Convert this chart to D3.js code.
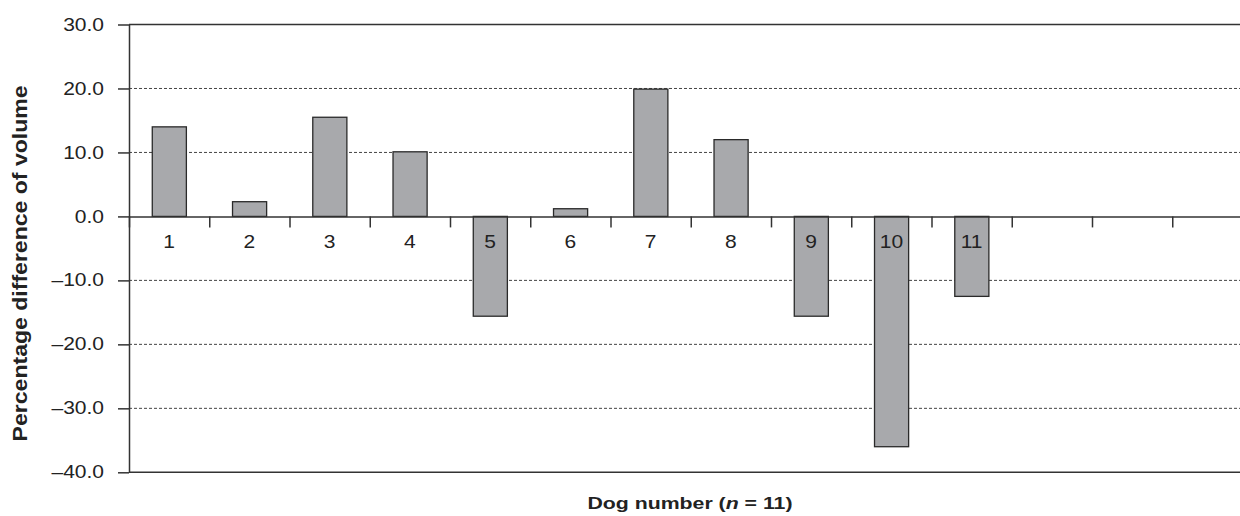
<!DOCTYPE html>
<html>
<head>
<meta charset="utf-8">
<script src="https://cdn.jsdelivr.net/npm/d3@7"></script>
<style>
  body { margin: 0; background: #fff; }
  svg { display: block; }
  text { font-family: "Liberation Sans", Arial, Helvetica, sans-serif; fill: #222; }
</style>
</head>
<body>
<div id="chart-area"></div>
<script>
// DATA
const slots = ["1", "2", "3", "4", "5", "6", "7", "8", "9", "10", "11", "12", "13", "14"]
const dogs = ["1", "2", "3", "4", "5", "6", "7", "8", "9", "10", "11"]
const diffs = [14.0, 2.3, 15.5, 10.1, -15.6, 1.2, 19.9, 12.0, -15.6, -36.0, -12.5]
const yTicks = [30, 20, 10, 0, -10, -20, -30, -40]
const gridTicks = [20, 10, -10, -20, -30]

const W = 1240, H = 516
const STRETCH = 1.2 // text in the picture is wider than it is tall

const svg = d3.select("#chart-area").append("svg")
  .attr("width", W)
  .attr("height", H)

// scales
const x = d3.scaleBand()
  .domain(slots)
  .range([129, 1252.5])
  .padding(0)

const xEdge = d3.scaleLinear()
  .domain([0, slots.length])
  .range(x.range())

const y = d3.scaleLinear()
  .domain([-40, 30])
  .range([472.3, 24.5])

const fmt = d => (d < 0 ? "\u2013" : "") + Math.abs(d).toFixed(1)

// dashed gridlines
svg.append("g")
  .selectAll("line")
  .data(gridTicks)
  .join("line")
    .attr("x1", 129)
    .attr("x2", W)
    .attr("y1", d => y(d))
    .attr("y2", d => y(d))
    .attr("stroke", "#444")
    .attr("stroke-width", 1)
    .attr("stroke-dasharray", "3,2")

// top and bottom frame
svg.append("g")
  .selectAll("line")
  .data([30, -40])
  .join("line")
    .attr("x1", 129)
    .attr("x2", W)
    .attr("y1", d => y(d))
    .attr("y2", d => y(d))
    .attr("stroke", "#333")
    .attr("stroke-width", 1.6)

// bars
const data = dogs.map((d, i) => ({ dog: d, value: diffs[i] }))
svg.append("g")
  .selectAll("rect")
  .data(data)
  .join("rect")
    .attr("x", d => x(d.dog) + x.bandwidth() * 0.29)
    .attr("width", x.bandwidth() * 0.425)
    .attr("y", d => y(Math.max(0, d.value)))
    .attr("height", d => Math.abs(y(d.value) - y(0)))
    .attr("fill", "#a8a9ac")
    .attr("stroke", "#2a2a2a")
    .attr("stroke-width", 1.3)

// y axis
const yAxis = svg.append("g")
  .attr("transform", "translate(129,0)")
  .call(d3.axisLeft(y).tickValues(yTicks).tickSize(11).tickSizeOuter(0).tickFormat(fmt))
yAxis.attr("font-size", null).attr("font-family", null)
yAxis.selectAll("line, path").attr("stroke", "#333").attr("stroke-width", 1.5)
yAxis.selectAll("text")
  .attr("font-size", 17.5)
  .attr("x", -25 / STRETCH)
  .attr("transform", `scale(${STRETCH},1)`)

// x axis (zero line with slot ticks)
const xAxis = svg.append("g")
  .attr("transform", `translate(0,${y(0)})`)
  .call(d3.axisBottom(xEdge).tickValues(d3.range(0, slots.length + 1)).tickSize(11).tickSizeOuter(0).tickFormat(""))
xAxis.selectAll("line, path").attr("stroke", "#333").attr("stroke-width", 1.5)

// category labels
const xLabels = svg.append("g")
  .attr("transform", `translate(0,${y(0)})`)
  .call(d3.axisBottom(x).tickSize(0).tickFormat(d => dogs.includes(d) ? d : ""))
xLabels.attr("font-size", null).attr("font-family", null)
xLabels.select(".domain").remove()
xLabels.selectAll("text")
  .attr("font-size", 17.5)
  .attr("dy", null)
  .attr("y", 32)
  .attr("transform", `scale(${STRETCH},1)`)

// axis titles
const xTitle = svg.append("text")
  .attr("x", 690)
  .attr("y", 508.5)
  .attr("text-anchor", "middle")
  .attr("font-size", 17)
  .attr("font-weight", "bold")
  .attr("textLength", 205)
  .attr("lengthAdjust", "spacingAndGlyphs")
xTitle.append("tspan").text("Dog number (")
xTitle.append("tspan").attr("font-style", "italic").text("n")
xTitle.append("tspan").text(" = 11)")

svg.append("text")
  .attr("transform", "translate(26.5,263.4) rotate(-90)")
  .attr("text-anchor", "middle")
  .attr("font-size", 20)
  .attr("font-weight", "bold")
  .attr("textLength", 356)
  .attr("lengthAdjust", "spacingAndGlyphs")
  .text("Percentage difference of volume")
</script>
</body>
</html>
